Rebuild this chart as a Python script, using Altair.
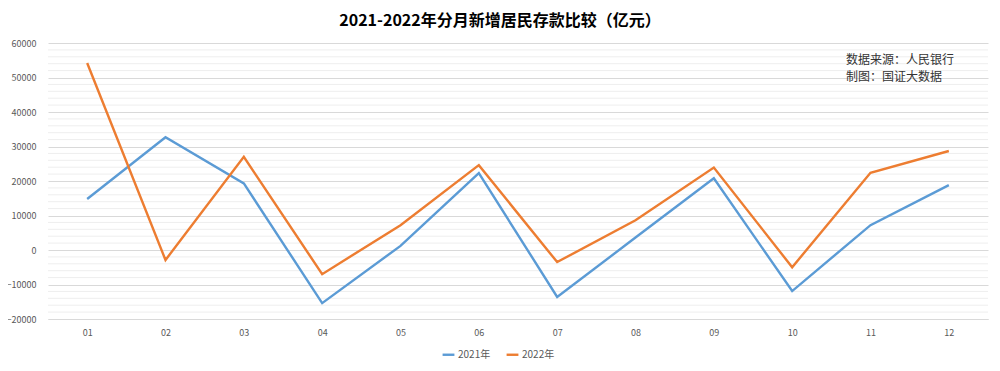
import altair as alt
import pandas as pd

months = ["01", "02", "03", "04", "05", "06", "07", "08", "09", "10", "11", "12"]
y2021 = [14800, 32700, 19300, -15400, 1200, 22300, -13600, 3600, 20800, -11900, 7200, 18800]
y2022 = [54200, -2900, 27000, -7000, 7200, 24600, -3500, 8600, 23900, -5000, 22400, 28700]
series_names = ["2021年", "2022年"]
colors = ["#5B9BD5", "#ED7D31"]
minor_ticks = [v for v in range(-20000, 60001, 2000) if v % 10000 != 0]
major_ticks = list(range(-20000, 60001, 10000))
note_lines = ["数据来源：人民银行", "制图：国证大数据"]

rows = []
for m, a, b in zip(months, y2021, y2022):
    rows.append({"month": m, "value": a, "series": series_names[0]})
    rows.append({"month": m, "value": b, "series": series_names[1]})
df = pd.DataFrame(rows)

FONT = "Noto Sans CJK SC"
yscale = alt.Scale(domain=[-20000, 60000], nice=False)
yaxis = alt.Axis(title=None, values=major_ticks, format="d", labelColor="#595959",
                 labelFont=FONT, labelFontSize=9, labelPadding=12, ticks=False,
                 domain=False, grid=True, gridColor="#D9D9D9", gridWidth=1)

minor = alt.Chart(pd.DataFrame({"v": minor_ticks})).mark_rule(
    color="#EEEEEE", strokeWidth=1
).encode(y=alt.Y("v:Q", scale=yscale, axis=yaxis))

lines = alt.Chart(df).mark_line(strokeWidth=2.4).encode(
    x=alt.X("month:N", sort=months, scale=alt.Scale(type="point", padding=0.5),
            axis=alt.Axis(title=None, labelColor="#595959", labelFont=FONT, labelFontSize=9,
                          labelPadding=9, ticks=False, domain=True, domainColor="#D9D9D9",
                          labelAngle=0, grid=False)),
    y=alt.Y("value:Q", scale=yscale, axis=yaxis),
    color=alt.Color("series:N", scale=alt.Scale(domain=series_names, range=colors),
                    legend=alt.Legend(title=None, orient="none", direction="horizontal",
                                      legendX=393, legendY=304, symbolType="M-1,0H1",
                                      symbolStrokeWidth=2.4, symbolSize=140,
                                      labelFont=FONT, labelFontSize=10, labelColor="#595959",
                                      labelOffset=2, columnPadding=10)),
)

notes = [
    alt.Chart(pd.DataFrame({"t": [txt]})).mark_text(
        align="left", baseline="middle", font=FONT, fontSize=12, color="#333333"
    ).encode(text="t:N", x=alt.value(798), y=alt.value(yy))
    for txt, yy in zip(note_lines, [17, 34])
]

chart = alt.layer(minor, lines, *notes).properties(
    width=940,
    height=276,
    padding={"left": 40, "top": 35, "right": 4, "bottom": 44},
    autosize=alt.AutoSizeParams(type="none"),
    title=alt.TitleParams("2021-2022年分月新增居民存款比较（亿元）", font=FONT, fontSize=16,
                          fontWeight="bold", color="#000000", anchor="middle", dx=-18, offset=10),
).configure(background="white", view=alt.ViewConfig(stroke=None))

chart.save("out.html", embed_options={"renderer": "svg", "actions": False})
